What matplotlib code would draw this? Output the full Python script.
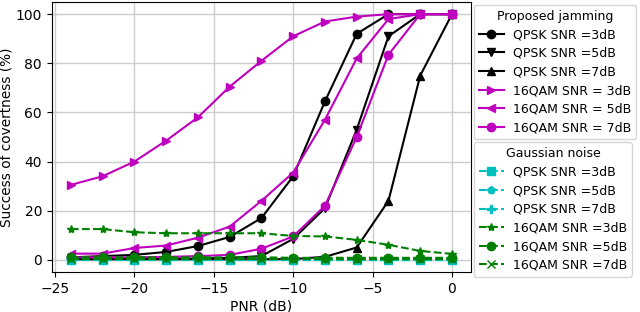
import numpy as np
import matplotlib
matplotlib.use("Agg")
import matplotlib.pyplot as plt

# PNR (dB)
pnr = [-24, -22, -20, -18, -16, -14, -12, -10, -8, -6, -4, -2, 0]

# Proposed jamming
qpsk3 = [1, 1.5, 2, 3.2, 5.6, 9.3, 17, 34, 64.5, 92, 100, 100, 100]
qpsk5 = [0.5, 0.5, 0.5, 0.5, 0.5, 0.8, 1.5, 8.5, 21, 53, 91, 100, 100]
qpsk7 = [0.2, 0.2, 0.2, 0.2, 0.2, 0.2, 0.2, 0.3, 1.2, 5, 24, 75, 100]
qam3 = [30.5, 34, 40, 48.5, 58, 70.5, 81, 91, 97, 99, 100, 100, 100]
qam5 = [2.5, 2.5, 4.8, 5.8, 9, 13.5, 24, 35.5, 57, 82, 98, 100, 100]
qam7 = [1, 1, 1, 1.2, 1.5, 2, 4.5, 9.5, 22, 50, 83.5, 100, 100]

# Gaussian noise
g_qpsk3 = [0, 0, 0, 0, 0, 0, 0, 0, 0, 0, 0, 0, 0]
g_qpsk5 = [0, 0, 0, 0, 0, 0, 0, 0, 0, 0, 0, 0, 0]
g_qpsk7 = [0, 0, 0, 0, 0, 0, 0, 0, 0, 0, 0, 0, 0]
g_qam3 = [12.5, 12.5, 11.2, 10.8, 10.8, 10.8, 10.8, 9.7, 9.5, 8.1, 6.1, 3.6, 2.4]
g_qam5 = [1, 1, 1, 1, 1, 1, 1, 0.8, 0.8, 0.8, 0.8, 0.8, 0.8]
g_qam7 = [0.5, 0.5, 0.5, 0.5, 0.5, 0.5, 0.5, 0.5, 0.5, 0.5, 0.5, 0.5, 0.5]

fig = plt.figure(figsize=(6.4, 3.12), dpi=100)
ax = fig.add_axes([0.081, 0.128, 0.655, 0.866])

h1 = []
h1 += ax.plot(pnr, qpsk3, 'k-o', lw=1.5, label='QPSK SNR =3dB')
h1 += ax.plot(pnr, qpsk5, 'k-v', lw=1.5, label='QPSK SNR =5dB')
h1 += ax.plot(pnr, qpsk7, 'k-^', lw=1.5, label='QPSK SNR =7dB')
h1 += ax.plot(pnr, qam3, 'm->', lw=1.5, label='16QAM SNR = 3dB')
h1 += ax.plot(pnr, qam5, 'm-<', lw=1.5, label='16QAM SNR = 5dB')
h1 += ax.plot(pnr, qam7, 'm-o', lw=1.5, label='16QAM SNR = 7dB')

h2 = []
h2 += ax.plot(pnr, g_qpsk3, 'c--s', lw=1.5, label='QPSK SNR =3dB')
h2 += ax.plot(pnr, g_qpsk5, 'c--p', lw=1.5, label='QPSK SNR =5dB')
h2 += ax.plot(pnr, g_qpsk7, 'c--P', lw=1.5, label='QPSK SNR =7dB')
h2 += ax.plot(pnr, g_qam3, 'g--*', lw=1.5, label='16QAM SNR =3dB')
h2 += ax.plot(pnr, g_qam5, 'g--o', lw=1.5, label='16QAM SNR =5dB')
h2 += ax.plot(pnr, g_qam7, 'g--x', lw=1.5, label='16QAM SNR =7dB')

ax.set_xlabel('PNR (dB)', labelpad=2.5)
ax.set_ylabel('Success of covertness (%)', labelpad=1.5, fontsize=9.8)
ax.set_xticks([-25, -20, -15, -10, -5, 0])
ax.set_yticks([0, 20, 40, 60, 80, 100])
ax.grid(True, color='#cccccc', lw=1)
ax.set_axisbelow(True)

leg_kw = dict(loc='upper left', borderaxespad=0, fontsize=9, title_fontsize=9,
              labelspacing=0.45, borderpad=0.4, handletextpad=0.7)
leg1 = ax.legend(handles=h1, title='Proposed jamming',
                 bbox_to_anchor=(1.007, 0.99), **leg_kw)
ax.add_artist(leg1)
ax.legend(handles=h2, title='Gaussian noise',
          bbox_to_anchor=(1.007, 0.481), **leg_kw)

fig.savefig('out.png', dpi=100)
